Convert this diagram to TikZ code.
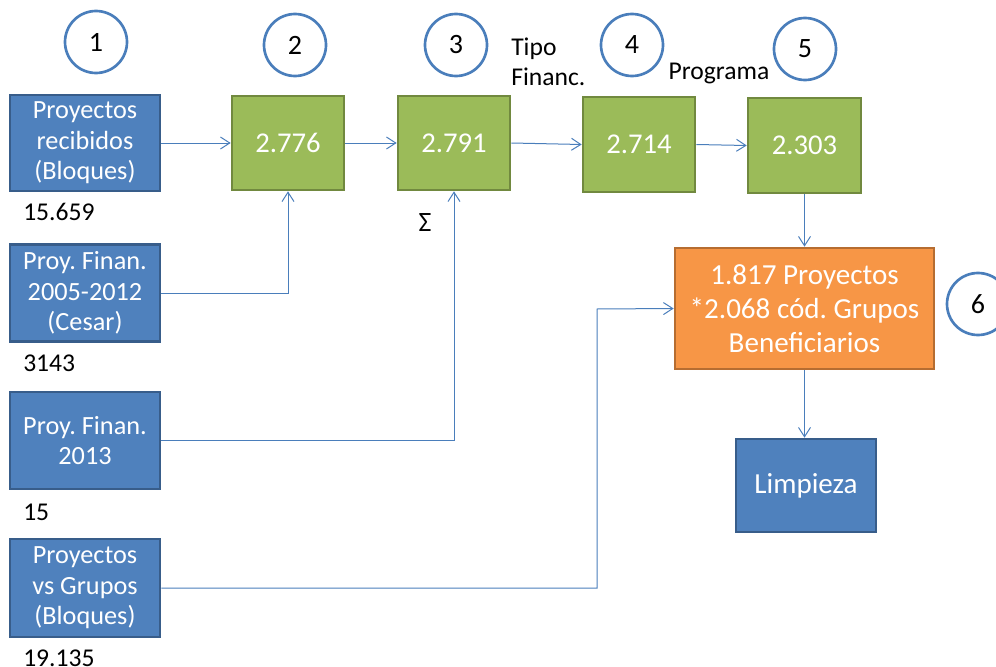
\documentclass[tikz,border=0pt]{standalone}
\usepackage{fontspec}
\setmainfont{Carlito}
\frenchspacing
\usetikzlibrary{arrows.meta}
\definecolor{bfill}{HTML}{4F81BD}
\definecolor{bdraw}{HTML}{385D8A}
\definecolor{gfill}{HTML}{9BBB59}
\definecolor{gdraw}{HTML}{71893F}
\definecolor{ofill}{HTML}{F79646}
\definecolor{odraw}{HTML}{B66D31}
\definecolor{lnk}{HTML}{4A7EBB}
\tikzset{
  sz/.style 2 args={minimum width=#1*0.75pt, minimum height=#2*0.75pt},
  bluebox/.style={rectangle, fill=bfill, draw=bdraw, line width=2pt, text=white, align=center, inner sep=0pt, font=\fontsize{19.7}{23}\selectfont},
  greenbox/.style={rectangle, fill=gfill, draw=gdraw, line width=2pt, text=white, align=center, inner sep=0pt, font=\fontsize{21.5}{25}\selectfont},
  orangebox/.style={rectangle, fill=ofill, draw=odraw, line width=2pt, text=white, align=center, inner sep=0pt, font=\fontsize{21.8}{25.5}\selectfont},
  numcirc/.style={circle, draw=lnk, line width=2pt, fill=white, minimum size=62*0.75pt, inner sep=0pt, font=\fontsize{21}{25}\selectfont},
  lbl/.style={inner sep=0pt, font=\fontsize{19.2}{22.5}\selectfont},
  arr/.style={draw=lnk, line width=0.75pt, -{Straight Barb[length=7pt,width=9pt]}}
}
\begin{document}
\begin{tikzpicture}[x=0.75pt,y=-0.75pt]
\useasboundingbox (0,0) rectangle (996,667);
% circles
\node[numcirc] (c1) at (96,42) {1};
\node[numcirc] (c2) at (295,45) {2};
\node[numcirc] (c3) at (456,45) {3};
\node[numcirc] (c4) at (632,45) {4};
\node[numcirc] (c5) at (805,49) {5};
\node[numcirc] (c6) at (978,304) {6};
% blue boxes
\node[bluebox, sz={150}{96}] (b1) at (85,143) {Proyectos\\recibidos\\(Bloques)};
\node[bluebox, sz={150}{97}] (b2) at (85,293) {Proy. Finan.\\2005-2012\\(Cesar)};
\node[bluebox, sz={150}{97}] (b3) at (85,440.5) {Proy. Finan.\\2013};
\node[bluebox, sz={150}{98}] (b4) at (85,588) {Proyectos\\vs Grupos\\(Bloques)};
% green boxes
\node[greenbox, sz={112}{94}] (g1) at (288,143) {2.776};
\node[greenbox, sz={112}{94}] (g2) at (454,143) {2.791};
\node[greenbox, sz={112}{95}] (g3) at (639,144.5) {2.714};
\node[greenbox, sz={113}{95}] (g4) at (804.5,145.5) {2.303};
% orange and final
\node[orangebox, sz={259}{121}] (or) at (804.5,308.5) {1.817 Proyectos\\*2.068 cód. Grupos\\Beneficiarios};
\node[bluebox, sz={140}{93}, font=\fontsize{21.8}{25}\selectfont] (lim) at (806,485.5) {Limpieza};
% labels
\node[lbl, anchor=west] (l1) at (23,212) {15.659};
\node[lbl, anchor=west] (l2) at (23,363) {3143};
\node[lbl, anchor=west] (l3) at (23,512) {15};
\node[lbl, anchor=west] (l4) at (23,658) {19.135};
\node[lbl, font=\fontsize{21}{25}\selectfont] (sig) at (425,223) {Σ};
\node[lbl, anchor=west, align=left] (tf) at (511,62) {Tipo\\Financ.};
\node[lbl] (prog) at (719,73) {Programa};
% connectors
\draw[arr] (b1.east) -- (g1.west);
\draw[arr] (g1.east) -- (g2.west);
\draw[arr] (g2.east) -- (g3.west);
\draw[arr] (g3.east) -- (g4.west);
\draw[arr] (g4.south) -- (or.north);
\draw[arr] (or.south) -- (or.south |- lim.north);
\draw[arr] (b2.east) -| (g1.south);
\draw[arr] (b3.east) -| (g2.south);
\coordinate (k) at (597,309);
\draw[arr] (b4.east) -| (k) -- (or.west);
\end{tikzpicture}
\end{document}
